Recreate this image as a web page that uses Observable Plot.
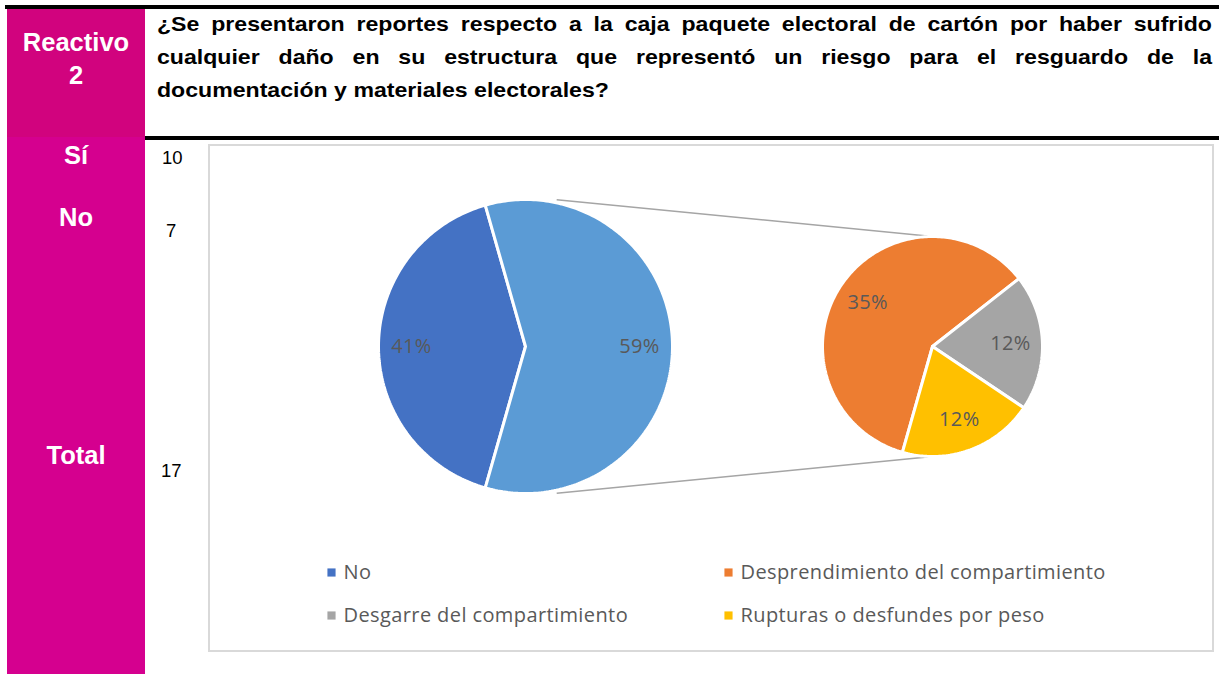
<!DOCTYPE html>
<html>
<head>
<meta charset="utf-8">
<script src="https://cdn.jsdelivr.net/npm/d3@7"></script>
<script src="https://cdn.jsdelivr.net/npm/@observablehq/plot@0.6"></script>
<style>
  html, body { margin: 0; padding: 0; background: #fff; }
  body { width: 1219px; height: 674px; position: relative; overflow: hidden; font-family: "Liberation Sans", Arial, sans-serif; }
  .abs { position: absolute; white-space: nowrap; }
  #chartbox { position: absolute; left: 208px; top: 144px; width: 1002px; height: 504px; border: 2px solid #d9d9d9; }
  #chart { position: absolute; left: 0; top: 0; }
  #chart svg text { letter-spacing: 0.4px; }
</style>
</head>
<body>
<div id="root"></div>
<div id="chartbox"><div id="chart"></div></div>
<script>
// ---------- data ----------
const reactivoLabel = ["Reactivo", "2"];
const questionLines = [
  "¿Se presentaron reportes respecto a la caja paquete electoral de cartón por haber sufrido",
  "cualquier daño en su estructura que representó un riesgo para el resguardo de la",
  "documentación y materiales electorales?"
];
const rowLabels = ["Sí", "No", "Total"];
const rowValues = ["10", "7", "17"];

const mainCats = ["No", "Sí"];
const mainValues = [7, 10];
const subCats = ["Desprendimiento del compartimiento", "Desgarre del compartimiento", "Rupturas o desfundes por peso"];
const subValues = [6, 2, 2];
const legendCats = ["No", "Desprendimiento del compartimiento", "Desgarre del compartimiento", "Rupturas o desfundes por peso"];
const colorDomain = ["No", "Sí", "Desprendimiento del compartimiento", "Desgarre del compartimiento", "Rupturas o desfundes por peso"];
const colorRange = ["#4472C4", "#5B9BD5", "#ED7D31", "#A5A5A5", "#FFC000"];

// ---------- page frame (table) ----------
const root = document.getElementById("root");
function box(left, top, w, h, bg) {
  const d = document.createElement("div");
  d.className = "abs";
  Object.assign(d.style, {left: left + "px", top: top + "px", width: w + "px", height: h + "px", background: bg});
  root.appendChild(d);
}
function txt(s, o) {
  const d = document.createElement("div");
  d.className = "abs";
  d.textContent = s;
  const fs = o.fs;
  Object.assign(d.style, {
    left: o.left + "px",
    top: (o.baseline - 0.8465 * fs) + "px",
    fontSize: fs + "px",
    lineHeight: fs + "px",
    fontWeight: o.bold ? "bold" : "normal",
    color: o.color || "#000",
    textAlign: o.align || "left"
  });
  if (o.width) d.style.width = o.width + "px";
  if (o.justify) { d.style.textAlign = "justify"; d.style.textAlignLast = "justify"; d.style.whiteSpace = "normal"; }
  if (o.scaleX) { d.style.transform = `scaleX(${o.scaleX})`; d.style.transformOrigin = "left top"; }
  root.appendChild(d);
}
box(5, 5, 1214, 4, "#000");
box(7, 9, 138, 128, "#D1037E");
box(7, 137, 138, 537, "#D5008F");
box(145, 136, 1074, 4, "#000");

txt(reactivoLabel[0], {left: 7, width: 138, align: "center", baseline: 52, fs: 25.5, bold: true, color: "#fff"});
txt(reactivoLabel[1], {left: 7, width: 138, align: "center", baseline: 85, fs: 25.5, bold: true, color: "#fff"});

const qScale = 1.10, qFs = 21;
questionLines.forEach((s, i) => {
  txt(s, {left: 157, baseline: 31 + 33 * i, fs: qFs, bold: true, width: 1055 / qScale, scaleX: qScale, justify: i < questionLines.length - 1});
});

const rowBase = [165, 227, 465];
const valBase = [165, 238, 478];
const valLeft = [162, 166, 161];
rowLabels.forEach((s, i) => txt(s, {left: 7, width: 138, align: "center", baseline: rowBase[i], fs: 25.5, bold: true, color: "#fff"}));
rowValues.forEach((s, i) => txt(s, {left: valLeft[i], baseline: valBase[i], fs: 18.5}));

// ---------- chart ----------
const W = 1002, H = 504;
const deg = Math.PI / 180;
const main = {cx: 315, cy: 200, r: 147, lab: 114};
const sub = {cx: 722, cy: 200, r: 110, lab: 78};
const total = d3.sum(mainValues);
const otherIdx = mainCats.indexOf("Sí");
// "Sí" slice centred on the right (90°), angles clockwise from 12 o'clock
const startAngle = 90 + (mainValues[otherIdx] / total) * 360 / 2;

function pt(c, r, a) { return [c.cx + r * Math.sin(a * deg), c.cy - r * Math.cos(a * deg)]; }

function slices(cats, vals, c, start) {
  const sum = d3.sum(vals);
  const poly = [], labels = [];
  let a0 = start;
  cats.forEach((cat, i) => {
    const span = vals[i] / sum * 360;
    const a1 = a0 + span;
    poly.push({cat, x: c.cx, y: c.cy});
    const n = Math.max(2, Math.ceil(span));
    for (let k = 0; k <= n; k++) {
      const [x, y] = pt(c, c.r, a0 + span * k / n);
      poly.push({cat, x, y});
    }
    poly.push({cat, x: c.cx, y: c.cy});
    const [lx, ly] = pt(c, c.lab, a0 + span / 2);
    labels.push({cat, x: lx, y: ly, text: Math.round(vals[i] / total * 100) + "%"});
    a0 = a1;
  });
  return {poly, labels};
}
const mainP = slices(mainCats, mainValues, main, startAngle);
const subP = slices(subCats, subValues, sub, startAngle);

const connAngle = 12;
const connectors = [
  {p1: pt(main, main.r + 3, connAngle), p2: pt(sub, sub.r, 0)},
  {p1: pt(main, main.r + 3, 180 - connAngle), p2: pt(sub, sub.r, 180)}
];

const legendX = [121, 518], legendY = [426, 469];
const legendData = legendCats.map((cat, i) => ({cat, col: i % 2, row: Math.floor(i / 2)}));

const chart = Plot.plot({
  width: W, height: H, margin: 0,
  x: {domain: [0, W], range: [0, W], axis: null},
  y: {domain: [0, H], range: [0, H], axis: null},
  color: {domain: colorDomain, range: colorRange},
  style: {background: "transparent", fontFamily: "'Open Sans', sans-serif", overflow: "visible"},
  marks: [
    Plot.link(connectors, {x1: d => d.p1[0], y1: d => d.p1[1], x2: d => d.p2[0], y2: d => d.p2[1], stroke: "#A5A5A5", strokeWidth: 1.5}),
    Plot.line(mainP.poly, {x: "x", y: "y", z: "cat", fill: "cat", stroke: "white", strokeWidth: 3, strokeLinejoin: "miter", curve: "linear"}),
    Plot.line(subP.poly, {x: "x", y: "y", z: "cat", fill: "cat", stroke: "white", strokeWidth: 3, strokeLinejoin: "miter", curve: "linear"}),
    Plot.text(mainP.labels.concat(subP.labels), {x: "x", y: "y", text: "text", fill: "#595959", fontSize: 20}),
    Plot.dot(legendData, {x: d => legendX[d.col], y: d => legendY[d.row], fill: "cat", symbol: "square", r: 4.6}),
    Plot.text(legendData, {x: d => legendX[d.col] + 12, y: d => legendY[d.row], text: "cat", textAnchor: "start", fill: "#595959", fontSize: 20})
  ]
});
document.getElementById("chart").appendChild(chart);
</script>
</body>
</html>
